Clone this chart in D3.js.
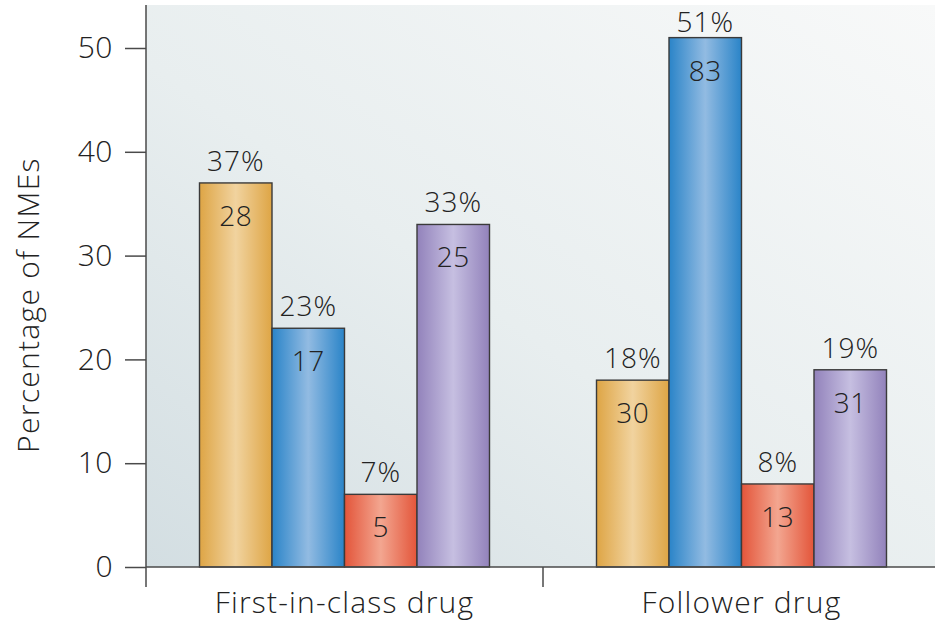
<!DOCTYPE html>
<html>
<head>
<meta charset="utf-8">
<script src="https://cdn.jsdelivr.net/npm/d3@7"></script>
<style>
  html, body { margin: 0; padding: 0; background: #fff; }
  svg { display: block; }
  text { font-family: "Open Sans", "Noto Sans", sans-serif; font-weight: 350; fill: #222; }
</style>
</head>
<body>
<svg id="chart" width="935" height="623"></svg>
<script>
// Drug categories along the x axis
const categories = ["First-in-class drug", "Follower drug"];
// Four series per category (colour-coded)
const seriesKeys = ["s1", "s2", "s3", "s4"];
// Percentage of NMEs per series, for each category
const firstInClassPct = [37, 23, 7, 33];
const followerPct = [18, 51, 8, 19];
// Number of NMEs per series, for each category
const firstInClassN = [28, 17, 5, 25];
const followerN = [30, 83, 13, 31];
// Y axis ticks
const yTicks = [0, 10, 20, 30, 40, 50];

// Gradient stops (edge, centre) for each series
const seriesColors = [
  { edge: "#dea545", mid: "#f1d39f" },
  { edge: "#2a84c8", mid: "#92bbe2" },
  { edge: "#e3553a", mid: "#f3a690" },
  { edge: "#9282bb", mid: "#c6bfe1" }
];

const pctTable = [firstInClassPct, followerPct];
const nTable = [firstInClassN, followerN];
const data = categories.map((c, i) => ({
  category: c,
  bars: seriesKeys.map((k, j) => ({ key: k, idx: j, pct: pctTable[i][j], n: nTable[i][j] }))
}));

const svg = d3.select("#chart");
const plotLeft = 146, plotRight = 940, plotTop = 5, plotBottom = 567;

const x0 = d3.scaleBand().domain(categories).range([plotLeft, plotRight]).paddingInner(0).paddingOuter(0);
const x1 = d3.scaleBand().domain(seriesKeys).range([0, 290]).padding(0);
const y = d3.scaleLinear().domain([0, 50]).range([plotBottom, 48]);

const defs = svg.append("defs");
const bg = defs.append("linearGradient").attr("id", "bgGrad")
  .attr("x1", "0%").attr("y1", "100%").attr("x2", "100%").attr("y2", "0%");
bg.append("stop").attr("offset", "0%").attr("stop-color", "#d3dee2");
bg.append("stop").attr("offset", "45%").attr("stop-color", "#e8eeef");
bg.append("stop").attr("offset", "100%").attr("stop-color", "#f8f9f9");

seriesColors.forEach((c, i) => {
  const g = defs.append("linearGradient").attr("id", "barGrad" + i)
    .attr("x1", "0%").attr("y1", "0%").attr("x2", "100%").attr("y2", "0%");
  g.append("stop").attr("offset", "0%").attr("stop-color", c.edge);
  g.append("stop").attr("offset", "50%").attr("stop-color", c.mid);
  g.append("stop").attr("offset", "100%").attr("stop-color", c.edge);
});

// Plot background
svg.append("rect")
  .attr("x", plotLeft).attr("y", plotTop)
  .attr("width", 935 - plotLeft).attr("height", plotBottom - plotTop)
  .attr("fill", "url(#bgGrad)");

// Bars
const groups = svg.selectAll("g.group").data(data).enter().append("g")
  .attr("class", "group")
  .attr("transform", d => `translate(${x0(d.category) + (x0.bandwidth() - 290) / 2},0)`);

groups.selectAll("rect").data(d => d.bars).enter().append("rect")
  .attr("x", d => x1(d.key))
  .attr("y", d => y(d.pct))
  .attr("width", x1.bandwidth())
  .attr("height", d => y(0) - y(d.pct))
  .attr("fill", d => `url(#barGrad${d.idx})`)
  .attr("stroke", "#3a3a3a")
  .attr("stroke-width", 1.4);

// Percentage labels above bars (kept inside the page for the tallest bar)
groups.selectAll("text.pct").data(d => d.bars).enter().append("text")
  .attr("class", "pct")
  .attr("x", d => x1(d.key) + x1.bandwidth() / 2)
  .attr("y", d => Math.max(y(d.pct) - 12, 32))
  .attr("text-anchor", "middle")
  .attr("font-size", 28)
  .attr("letter-spacing", 1)
  .text(d => d.pct + "%");

// Count labels inside bars
groups.selectAll("text.n").data(d => d.bars).enter().append("text")
  .attr("class", "n")
  .attr("x", d => x1(d.key) + x1.bandwidth() / 2)
  .attr("y", d => y(d.pct) + 43)
  .attr("text-anchor", "middle")
  .attr("font-size", 28)
  .attr("letter-spacing", 0.5)
  .text(d => d.n);

// Baseline along x
svg.append("line")
  .attr("x1", plotLeft).attr("x2", 935)
  .attr("y1", plotBottom).attr("y2", plotBottom)
  .attr("stroke", "#4a4a4a").attr("stroke-width", 1.5);

// Category separator tick
svg.append("line")
  .attr("x1", x0(categories[1])).attr("x2", x0(categories[1]))
  .attr("y1", plotBottom).attr("y2", plotBottom + 20)
  .attr("stroke", "#4a4a4a").attr("stroke-width", 1.5);

// Y axis
const yAxis = d3.axisLeft(y).tickValues(yTicks).tickSize(21).tickPadding(12).tickSizeOuter(0);
const yG = svg.append("g").attr("transform", `translate(${plotLeft},0)`).call(yAxis);
yG.select(".domain").remove();
yG.selectAll(".tick line").attr("stroke", "#4a4a4a").attr("stroke-width", 1.5);
yG.selectAll(".tick text").attr("font-size", 30).attr("fill", "#222")
  .attr("font-family", "\"Open Sans\", \"Noto Sans\", sans-serif")
  .attr("font-weight", 350)
  .attr("letter-spacing", 0.5);
svg.append("line")
  .attr("x1", plotLeft).attr("x2", plotLeft)
  .attr("y1", plotTop).attr("y2", plotBottom + 20)
  .attr("stroke", "#4a4a4a").attr("stroke-width", 1.5);

// Category labels
svg.selectAll("text.cat").data(categories).enter().append("text")
  .attr("class", "cat")
  .attr("x", d => x0(d) + x0.bandwidth() / 2)
  .attr("y", 613)
  .attr("text-anchor", "middle")
  .attr("font-size", 30)
  .attr("letter-spacing", 1.2)
  .text(d => d);

// Y axis title
svg.append("text")
  .attr("transform", "translate(39,305) rotate(-90)")
  .attr("text-anchor", "middle")
  .attr("font-size", 30)
  .attr("letter-spacing", 1.3)
  .text("Percentage of NMEs");
</script>
</body>
</html>
